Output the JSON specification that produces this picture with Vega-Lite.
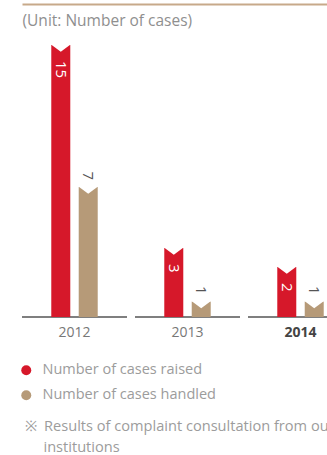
{
  "$schema": "https://vega.github.io/schema/vega-lite/v6.json",
  "width": 305,
  "height": 313,
  "autosize": {"type": "none"},
  "padding": {"left": 22, "top": 4, "right": 0, "bottom": 138},
  "background": "white",
  "config": {"view": {"stroke": null}, "font": "Open Sans"},
  "data": {
    "values": [
      {"year": "2012", "series": "Number of cases raised", "value": 15},
      {"year": "2012", "series": "Number of cases handled", "value": 7},
      {"year": "2013", "series": "Number of cases raised", "value": 3},
      {"year": "2013", "series": "Number of cases handled", "value": 1},
      {"year": "2014", "series": "Number of cases raised", "value": 2},
      {"year": "2014", "series": "Number of cases handled", "value": 1}
    ]
  },
  "encoding": {
    "x": {
      "field": "year",
      "type": "nominal",
      "axis": null,
      "scale": {"type": "band", "range": [0, 331], "paddingInner": 0.0708, "paddingOuter": 0}
    },
    "xOffset": {
      "field": "series",
      "type": "nominal",
      "scale": {"domain": ["Number of cases raised", "Number of cases handled"], "paddingInner": 0.174, "paddingOuter": 1.37}
    },
    "y": {
      "field": "value",
      "type": "quantitative",
      "axis": null,
      "scale": {"type": "linear", "domain": [0, 1, 2, 3, 7, 15], "range": [313, 297.5, 263, 244, 183, 41], "zero": false, "nice": false}
    }
  },
  "layer": [
    {
      "mark": {"type": "tick", "orient": "horizontal", "size": 105, "thickness": 1.5, "color": "#5a5a5a"},
      "encoding": {
        "xOffset": null,
        "y": {"datum": 0, "type": "quantitative"},
        "x": {
          "field": "year",
          "type": "nominal",
          "axis": {
            "orient": "top",
            "labels": false,
            "ticks": false,
            "domain": true,
            "domainColor": "#c7a98a",
            "domainWidth": 2,
            "title": "(Unit: Number of cases)",
            "titleAnchor": "start",
            "titleAlign": "left",
            "titleX": 0,
            "titleY": 21,
            "titleBaseline": "alphabetic",
            "titleFontSize": 15.5,
            "titleFontWeight": "normal",
            "titleColor": "#8f8f8f",
            "titleFont": "Open Sans"
          }
        }
      }
    },
    {
      "mark": {"type": "bar", "width": 19},
      "encoding": {
        "x": {
          "field": "year",
          "type": "nominal",
          "axis": {
            "orient": "bottom",
            "domain": false,
            "ticks": false,
            "labelAngle": 0,
            "labelPadding": 8,
            "labelFontSize": 14,
            "labelFont": "Open Sans",
            "labelColor": {"condition": {"test": "datum.value === '2014'", "value": "#444444"}, "value": "#777777"},
            "labelFontWeight": {"condition": {"test": "datum.value === '2014'", "value": "bold"}, "value": "normal"},
            "title": ["※\u00a0\u00a0Results of complaint consultation from outside", "\u200b\u00a0\u00a0\u00a0\u00a0\u00a0institutions"],
            "titleAnchor": "start",
            "titleAlign": "left",
            "titleX": 2,
            "titleY": 113,
            "titleBaseline": "alphabetic",
            "titleFontSize": 14.6,
            "titleLineHeight": 21,
            "titleFontWeight": "normal",
            "titleColor": "#9c9c9c",
            "titleFont": "Open Sans",
            "titleLimit": 1000
          }
        },
        "color": {
          "field": "series",
          "type": "nominal",
          "scale": {"domain": ["Number of cases raised", "Number of cases handled"], "range": ["#d6182a", "#b69a78"]},
          "legend": {
            "orient": "none",
            "legendX": -3,
            "legendY": 359,
            "direction": "vertical",
            "title": null,
            "symbolType": "circle",
            "symbolSize": 100,
            "symbolStrokeWidth": 0,
            "labelFontSize": 14.5,
            "labelColor": "#9c9c9c",
            "labelFont": "Open Sans",
            "labelOffset": 9,
            "labelLimit": 400,
            "rowPadding": 10,
            "padding": 0
          }
        }
      }
    },
    {
      "mark": {"type": "point", "shape": "M-1.1,-0.1L1.1,-0.1L0,0.7Z", "size": 361, "filled": true, "color": "white", "opacity": 1, "strokeWidth": 0}
    },
    {
      "transform": [{"filter": "datum.series === 'Number of cases raised'"}],
      "mark": {"type": "text", "angle": 90, "align": "left", "baseline": "middle", "dx": 16, "color": "white", "fontSize": 15, "font": "Open Sans"},
      "encoding": {"text": {"field": "value", "type": "quantitative"}}
    },
    {
      "transform": [{"filter": "datum.series === 'Number of cases handled'"}],
      "mark": {"type": "text", "angle": 90, "align": "right", "baseline": "middle", "dx": -7, "color": "#555555", "fontSize": 15, "font": "Open Sans"},
      "encoding": {"text": {"field": "value", "type": "quantitative"}}
    }
  ]
}
